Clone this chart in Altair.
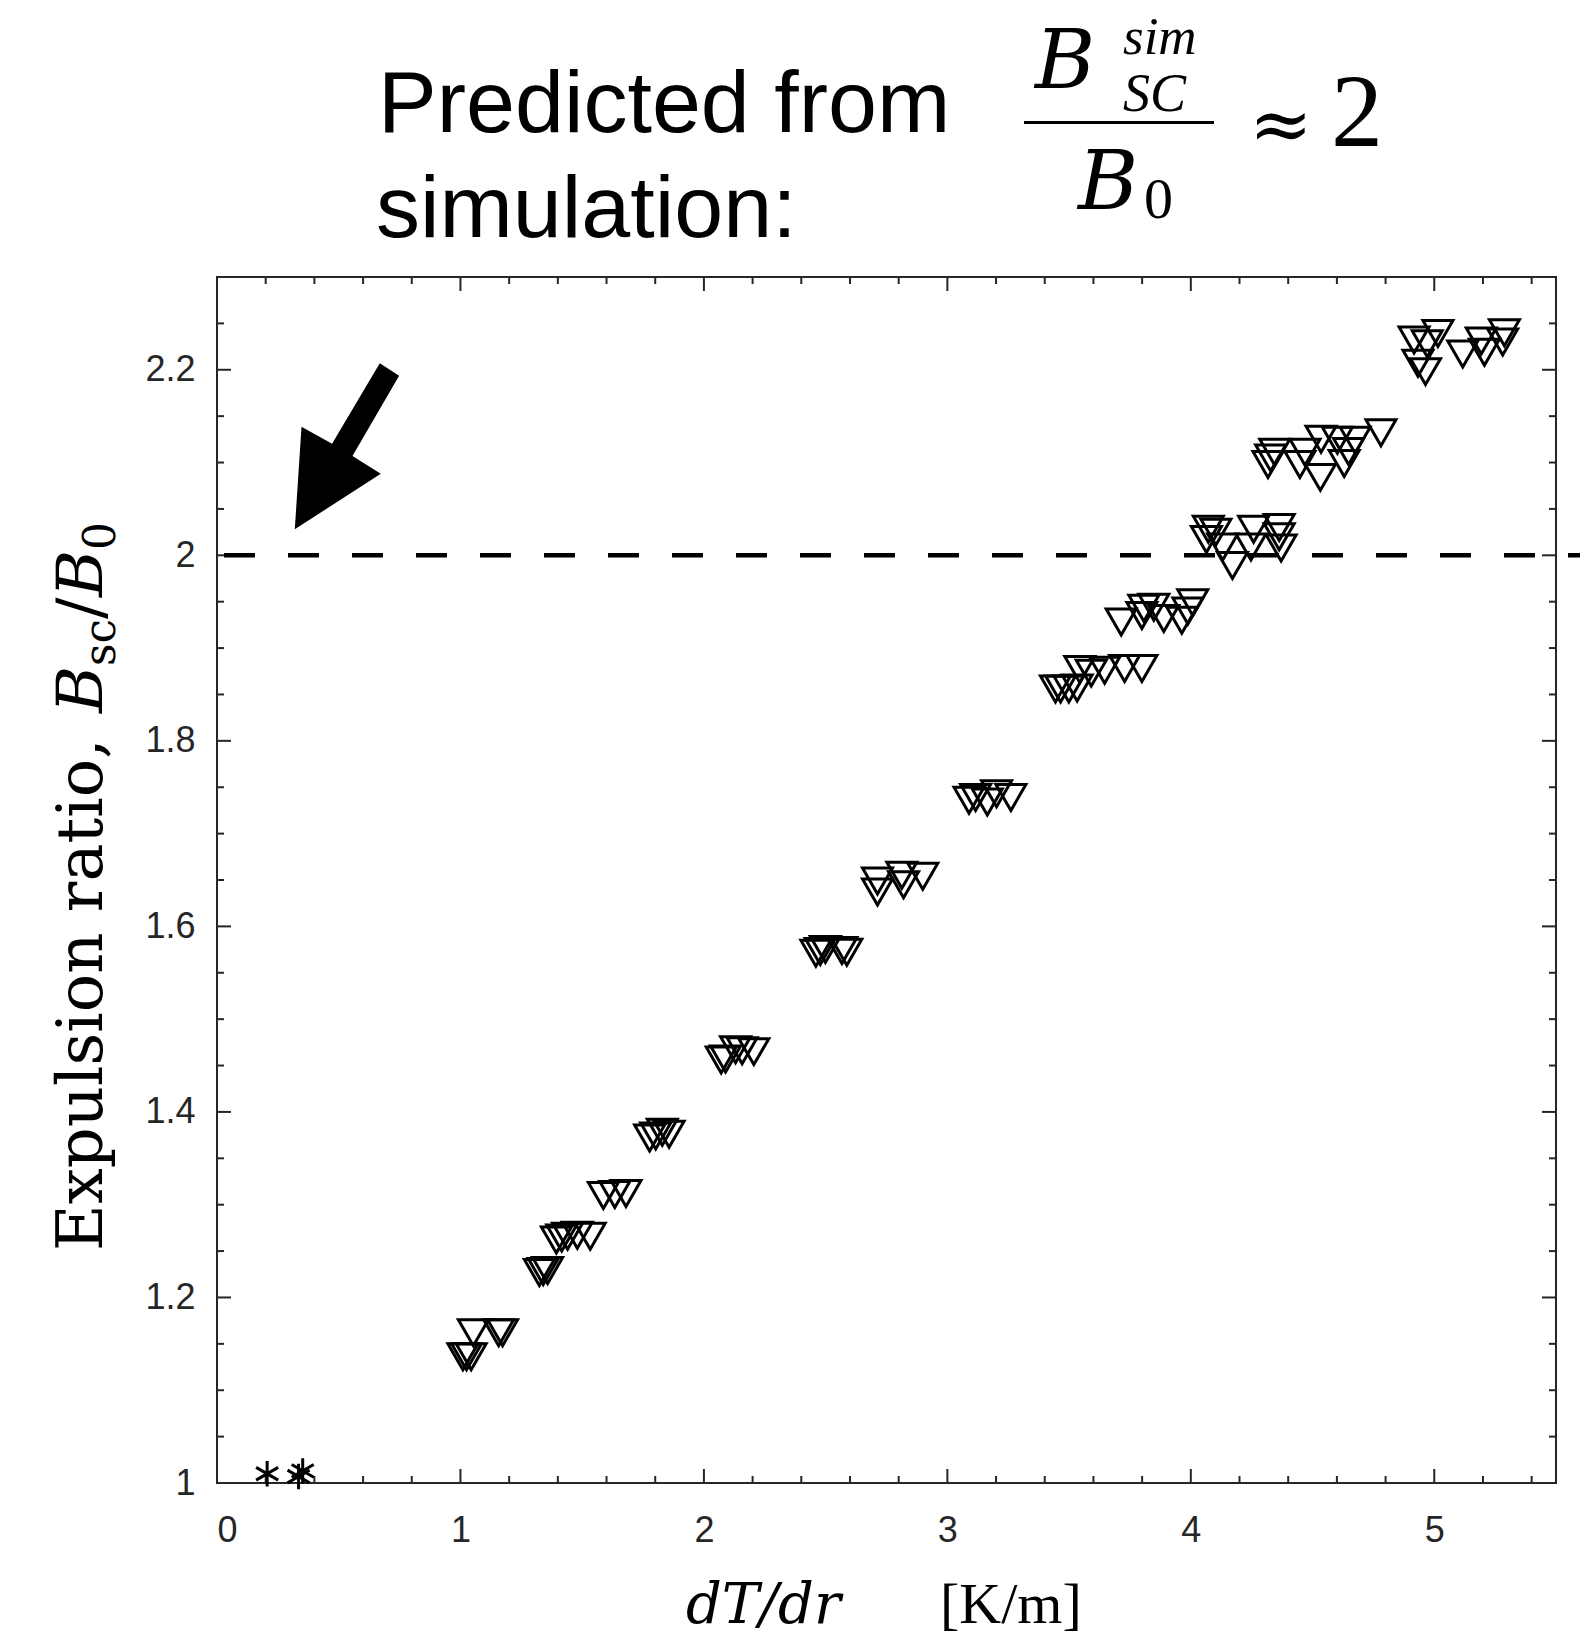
import altair as alt
import pandas as pd

# ---------------- data ----------------
tri_x = [1.010, 1.025, 1.044, 1.053, 1.157, 1.173,
         1.324, 1.340, 1.358,
         1.394, 1.416, 1.440, 1.480, 1.533,
         1.587, 1.634, 1.680,
         1.777, 1.802, 1.829, 1.857,
         2.071, 2.089, 2.130, 2.157, 2.205,
         2.460, 2.478, 2.499, 2.567, 2.587,
         2.713, 2.713, 2.813, 2.899, 2.820,
         3.089, 3.116, 3.202, 3.261, 3.164,
         3.444, 3.465, 3.499, 3.533, 3.544, 3.591, 3.646, 3.728, 3.799,
         3.714, 3.799, 3.889, 3.807, 3.848, 3.963, 4.008, 3.988,
         4.064, 4.072, 4.103, 4.131, 4.171, 4.258, 4.247, 4.363, 4.363, 4.371,
         4.317, 4.328, 4.345, 4.448, 4.469, 4.535, 4.532, 4.602, 4.630, 4.675, 4.781, 4.648,
         4.917, 5.015, 4.971, 4.933, 4.964, 5.117, 5.193, 5.206, 5.288, 5.281]
tri_y = [1.136, 1.136, 1.136, 1.162, 1.162, 1.162,
         1.227, 1.228, 1.229,
         1.262, 1.264, 1.266, 1.267, 1.266,
         1.310, 1.311, 1.312,
         1.372, 1.374, 1.378, 1.376,
         1.456, 1.457, 1.467, 1.466, 1.465,
         1.571, 1.573, 1.575, 1.574, 1.572,
         1.637, 1.649, 1.655, 1.654, 1.645,
         1.736, 1.739, 1.743, 1.739, 1.734,
         1.856, 1.856, 1.856, 1.857, 1.877, 1.873, 1.876, 1.878, 1.878,
         1.928, 1.935, 1.932, 1.943, 1.944, 1.930, 1.949, 1.940,
         2.017, 2.028, 2.025, 2.009, 1.989, 2.028, 2.009, 2.030, 2.020, 2.008,
         2.098, 2.105, 2.111, 2.098, 2.111, 2.125, 2.084, 2.124, 2.099, 2.124, 2.132, 2.112,
         2.232, 2.239, 2.228, 2.207, 2.198, 2.217, 2.231, 2.219, 2.240, 2.230]

star_x = [0.206, 0.335, 0.352]
star_y = [1.010, 1.007, 1.013]

ref_line_y = [2.0]
ref_line_x = [0.0]
ref_line_x2 = [5.7]

arrow_x = [0.534]
arrow_y = [2.1175]

x_major = [0, 1, 2, 3, 4, 5]
x_minor = [0.2, 0.4, 0.6, 0.8, 1.2, 1.4, 1.6, 1.8, 2.2, 2.4, 2.6, 2.8,
           3.2, 3.4, 3.6, 3.8, 4.2, 4.4, 4.6, 4.8, 5.2, 5.4]
y_major = [1.0, 1.2, 1.4, 1.6, 1.8, 2.0, 2.2]
y_minor = [1.05, 1.1, 1.15, 1.25, 1.3, 1.35, 1.45, 1.5, 1.55, 1.65, 1.7, 1.75,
           1.85, 1.9, 1.95, 2.05, 2.1, 2.15, 2.25]

W, H = 1339, 1206
AX = "#262626"
MAJ, MIN = 14, 7
SERIF = "Liberation Serif"
DSERIF = "DejaVu Serif"

xs = alt.Scale(domain=[0, 5.5], nice=False, zero=False)
ys = alt.Scale(domain=[1.0, 2.3], nice=False, zero=False)

x_axis = alt.Axis(values=x_major, format="~g", domain=False, ticks=False, grid=False,
                  labelFont="Liberation Sans", labelFontSize=36, labelColor=AX,
                  labelPadding=30, title=None)
y_axis = alt.Axis(values=y_major, format="~g", domain=False, ticks=False, grid=False,
                  labelFont="Liberation Sans", labelFontSize=36, labelColor=AX,
                  labelPadding=22, title=None)

tri_df = pd.DataFrame({"x": tri_x, "y": tri_y})
triangles = alt.Chart(tri_df).mark_point(
    shape="triangle-down", filled=False, stroke="black", strokeWidth=3,
    size=900, opacity=1
).encode(x=alt.X("x:Q", scale=xs, axis=x_axis), y=alt.Y("y:Q", scale=ys, axis=y_axis))

star_df = pd.DataFrame({"x": star_x, "y": star_y})
stars = alt.Chart(star_df).mark_point(
    shape="M0,-1L0,1M-0.866,-0.5L0.866,0.5M-0.866,0.5L0.866,-0.5",
    filled=False, stroke="black", strokeWidth=3, size=650, opacity=1
).encode(x=alt.X("x:Q", scale=xs), y=alt.Y("y:Q", scale=ys))

line_df = pd.DataFrame({"x": ref_line_x, "x2": ref_line_x2, "y": ref_line_y})
dash_line = alt.Chart(line_df).mark_rule(
    stroke="black", strokeWidth=4.5, strokeDash=[31, 33], strokeDashOffset=57
).encode(x=alt.X("x:Q", scale=xs), x2="x2:Q", y=alt.Y("y:Q", scale=ys))

arrow_path = ("M0.395,-1L0.628,-0.851L0.066,0.117L0.407,0.330L-0.629,1"
              "L-0.548,-0.236L-0.180,-0.031Z")
arrow_df = pd.DataFrame({"x": arrow_x, "y": arrow_y})
arrow = alt.Chart(arrow_df).mark_point(
    shape=arrow_path, filled=True, fill="black", strokeWidth=0, size=27556, opacity=1
).encode(x=alt.X("x:Q", scale=xs), y=alt.Y("y:Q", scale=ys))

# inward ticks on all four sides
def vticks(vals, y0, y1):
    return alt.Chart(pd.DataFrame({"v": vals})).mark_rule(stroke=AX, strokeWidth=2).encode(
        x=alt.X("v:Q", scale=xs), y=alt.value(y0), y2=alt.value(y1))

def hticks(vals, x0, x1):
    return alt.Chart(pd.DataFrame({"v": vals})).mark_rule(stroke=AX, strokeWidth=2).encode(
        y=alt.Y("v:Q", scale=ys), x=alt.value(x0), x2=alt.value(x1))

ticks = [
    vticks(x_major, H, H - MAJ), vticks(x_minor, H, H - MIN),
    vticks(x_major, 0, MAJ), vticks(x_minor, 0, MIN),
    hticks(y_major, 0, MAJ), hticks(y_minor, 0, MIN),
    hticks(y_major, W, W - MAJ), hticks(y_minor, W, W - MIN),
]

# text pieces (title, formula, axis titles)
def txt(s, x, y, size, font=SERIF, style="normal", angle=0, align="left"):
    return alt.Chart(pd.DataFrame({"t": [s]})).mark_text(
        font=font, fontSize=size, fontStyle=style, align=align, baseline="alphabetic",
        angle=angle, color="black"
    ).encode(x=alt.value(x), y=alt.value(y), text="t:N")

texts = [
    txt("Predicted from", 161, -145, 88, font="Liberation Sans"),
    txt("simulation:", 159, -40, 88, font="Liberation Sans"),
    # formula  B_SC^sim / B_0  ~ 2
    txt("B", 818, -189, 82, font=DSERIF, style="italic"),
    txt("sim", 906, -223, 53, style="italic"),
    txt("SC", 906, -166, 54, style="italic"),
    txt("B", 861, -68, 82, font=DSERIF, style="italic"),
    txt("0", 927, -59, 58),
    txt("\u2248", 1032, -127, 76, font=DSERIF),
    txt("2", 1114, -131, 104),
    # x-axis title
    txt("dT/dr", 469, 1346, 56, font=DSERIF, style="italic"),
    txt("[K/m]", 723, 1346, 58),
    # y-axis title (rotated)
    txt("Expulsion ratio, ", -115, 974, 64, font=DSERIF, angle=270),
    txt("B", -115, 436, 64, font=DSERIF, style="italic", angle=270),
    txt("sc", -102, 389, 44, font=DSERIF, angle=270),
    txt("/", -115, 342, 64, font=DSERIF, angle=270),
    txt("B", -115, 320, 64, font=DSERIF, style="italic", angle=270),
    txt("0", -102, 273, 44, font=DSERIF, angle=270),
]

frac_bar = alt.Chart(pd.DataFrame({"a": [0]})).mark_rule(stroke="black", strokeWidth=3).encode(
    x=alt.value(807), x2=alt.value(997), y=alt.value(-154.5))

chart = alt.layer(
    *ticks, dash_line, triangles, stars, arrow, *texts, frac_bar
).properties(
    width=W, height=H,
    padding={"left": 209, "top": 269, "right": 24, "bottom": 152},
    autosize=alt.AutoSizeParams(type="none")
).configure_view(stroke=AX, strokeWidth=2)

chart.save("out.html", embed_options={"renderer": "svg", "actions": False})
